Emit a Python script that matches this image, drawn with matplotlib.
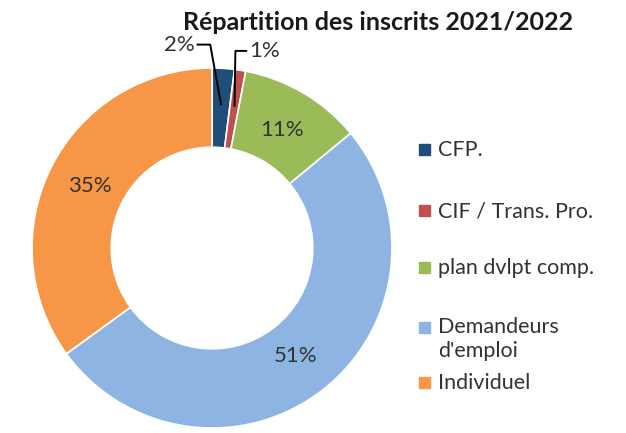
# Donut chart: répartition des inscrits 2021/2022
import numpy as np
import matplotlib
matplotlib.use('Agg')
import matplotlib.pyplot as plt
from matplotlib.patches import Rectangle

plt.rcParams['font.family'] = ['Lato', 'DejaVu Sans']

categories = ['CFP.', 'CIF / Trans. Pro.', 'plan dvlpt comp.', 'Demandeurs\nd\'emploi', 'Individuel']
values = [2, 1, 11, 51, 35]
pct_labels = ['2%', '1%', '11%', '51%', '35%']
colors = ['#1F4E79', '#C0504D', '#9BBB59', '#8EB4E3', '#F79646']

fig = plt.figure(figsize=(6.26, 4.33), dpi=100)
ax = fig.add_axes([32/626, 5/433, 360/626, 360/433])

wedges, _ = ax.pie(values, colors=colors, startangle=90, counterclock=False,
                   radius=1, wedgeprops=dict(width=0.44, edgecolor='white', linewidth=1.2))
ax.set_xlim(-1, 1)
ax.set_ylim(-1, 1)
ax.set_aspect('equal')

txt_col = '#333333'
for i, w in enumerate(wedges):
    ang = np.deg2rad((w.theta1 + w.theta2) / 2)
    if values[i] >= 5:
        r = 0.76
        ax.text(r * np.cos(ang), r * np.sin(ang), pct_labels[i], ha='center', va='center',
                fontsize=16, color=txt_col)
    else:
        # small slices: label outside with elbow leader line
        x0, y0 = 0.8 * np.cos(ang), 0.8 * np.sin(ang)
        if i == 0:
            xe, ye = -0.01, 1.13
            xl = -0.08
            ha = 'right'
        else:
            xe, ye = 0.13, 1.095
            xl = 0.19
            ha = 'left'
        ax.plot([x0, xe, xl], [y0, ye, ye], color='black', lw=1.4, clip_on=False)
        ax.text(xl + (-0.015 if ha == 'right' else 0.015), ye, pct_labels[i], ha=ha, va='center',
                fontsize=16, color=txt_col, clip_on=False)

fig.text(378/626, 1 - 22/433, 'Répartition des inscrits 2021/2022', ha='center', va='center',
         fontsize=18, fontweight='bold', color='#1a1a1a')

# legend drawn by hand to keep Excel-like spacing
leg_y = [150, 211, 268, 328, 383]
for lab, col, y in zip(categories, colors, leg_y):
    fig.patches.append(Rectangle((419/626, 1 - (y + 5)/433), 11/626, 11/433,
                                 transform=fig.transFigure, color=col))
    yy = y - 11 if '\n' in lab else y
    fig.text(438/626, 1 - yy/433, lab, ha='left', va='top' if '\n' in lab else 'center',
             fontsize=15.5, color=txt_col, linespacing=1.25)

plt.savefig('out.png', dpi=100)
